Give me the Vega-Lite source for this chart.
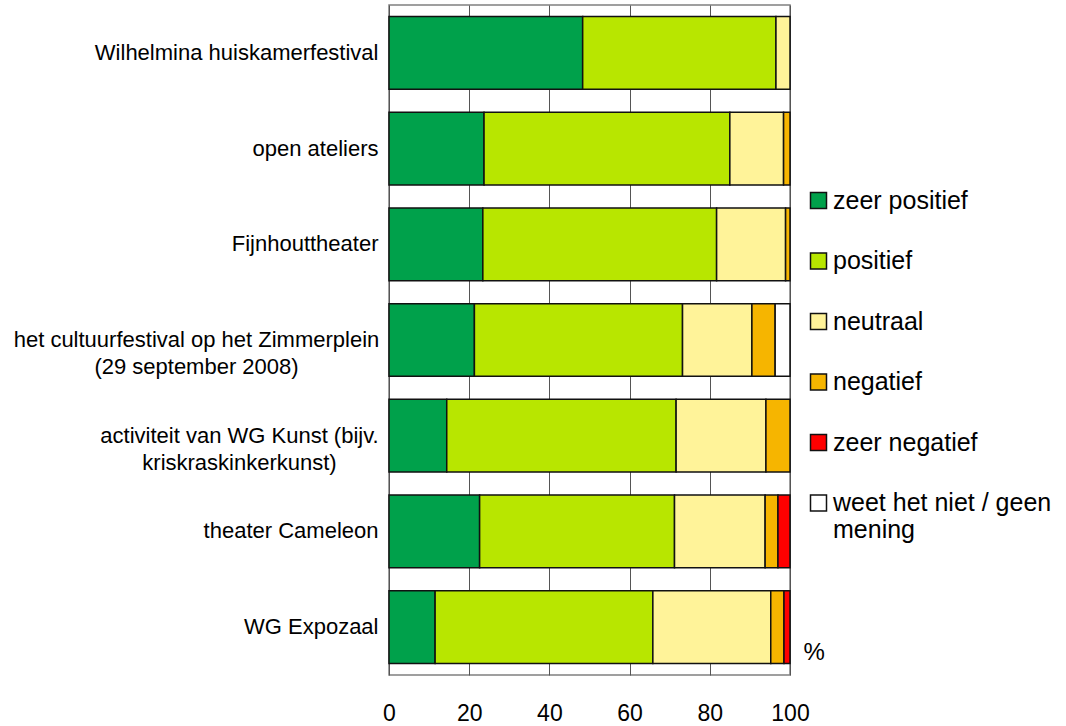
{
  "$schema": "https://vega.github.io/schema/vega-lite/v6.json",
  "width": 401,
  "height": 670,
  "autosize": {"type": "none"},
  "padding": {"left": 389, "top": 5, "right": 276, "bottom": 51},
  "background": "white",
  "config": {
    "font": "Liberation Sans",
    "view": {"stroke": "#808080", "strokeWidth": 1.5}
  },
  "data": {
    "values": [
      {"item": "Wilhelmina huiskamerfestival", "answer": "zeer positief", "k": 1, "pct": 48.3},
      {"item": "Wilhelmina huiskamerfestival", "answer": "positief", "k": 2, "pct": 48.2},
      {"item": "Wilhelmina huiskamerfestival", "answer": "neutraal", "k": 3, "pct": 3.5},
      {"item": "open ateliers", "answer": "zeer positief", "k": 1, "pct": 23.7},
      {"item": "open ateliers", "answer": "positief", "k": 2, "pct": 61.3},
      {"item": "open ateliers", "answer": "neutraal", "k": 3, "pct": 13.4},
      {"item": "open ateliers", "answer": "negatief", "k": 4, "pct": 1.6},
      {"item": "Fijnhouttheater", "answer": "zeer positief", "k": 1, "pct": 23.4},
      {"item": "Fijnhouttheater", "answer": "positief", "k": 2, "pct": 58.3},
      {"item": "Fijnhouttheater", "answer": "neutraal", "k": 3, "pct": 17.2},
      {"item": "Fijnhouttheater", "answer": "negatief", "k": 4, "pct": 1.1},
      {"item": "het cultuurfestival op het Zimmerplein (29 september 2008)", "answer": "zeer positief", "k": 1, "pct": 21.3},
      {"item": "het cultuurfestival op het Zimmerplein (29 september 2008)", "answer": "positief", "k": 2, "pct": 51.9},
      {"item": "het cultuurfestival op het Zimmerplein (29 september 2008)", "answer": "neutraal", "k": 3, "pct": 17.3},
      {"item": "het cultuurfestival op het Zimmerplein (29 september 2008)", "answer": "negatief", "k": 4, "pct": 5.8},
      {"item": "het cultuurfestival op het Zimmerplein (29 september 2008)", "answer": "weet het niet / geen mening", "k": 6, "pct": 3.7},
      {"item": "activiteit van WG Kunst (bijv. kriskraskinkerkunst)", "answer": "zeer positief", "k": 1, "pct": 14.4},
      {"item": "activiteit van WG Kunst (bijv. kriskraskinkerkunst)", "answer": "positief", "k": 2, "pct": 57.2},
      {"item": "activiteit van WG Kunst (bijv. kriskraskinkerkunst)", "answer": "neutraal", "k": 3, "pct": 22.4},
      {"item": "activiteit van WG Kunst (bijv. kriskraskinkerkunst)", "answer": "negatief", "k": 4, "pct": 6.0},
      {"item": "theater Cameleon", "answer": "zeer positief", "k": 1, "pct": 22.6},
      {"item": "theater Cameleon", "answer": "positief", "k": 2, "pct": 48.6},
      {"item": "theater Cameleon", "answer": "neutraal", "k": 3, "pct": 22.6},
      {"item": "theater Cameleon", "answer": "negatief", "k": 4, "pct": 3.2},
      {"item": "theater Cameleon", "answer": "zeer negatief", "k": 5, "pct": 3.0},
      {"item": "WG Expozaal", "answer": "zeer positief", "k": 1, "pct": 11.5},
      {"item": "WG Expozaal", "answer": "positief", "k": 2, "pct": 54.3},
      {"item": "WG Expozaal", "answer": "neutraal", "k": 3, "pct": 29.4},
      {"item": "WG Expozaal", "answer": "negatief", "k": 4, "pct": 3.3},
      {"item": "WG Expozaal", "answer": "zeer negatief", "k": 5, "pct": 1.5}
    ]
  },
  "mark": {"type": "bar", "stroke": "#111111", "strokeWidth": 1.5},
  "encoding": {
    "y": {
      "field": "item",
      "type": "nominal",
      "sort": [
        "Wilhelmina huiskamerfestival",
        "open ateliers",
        "Fijnhouttheater",
        "het cultuurfestival op het Zimmerplein (29 september 2008)",
        "activiteit van WG Kunst (bijv. kriskraskinkerkunst)",
        "theater Cameleon",
        "WG Expozaal"
      ],
      "scale": {"paddingInner": 0.24, "paddingOuter": 0.12},
      "axis": {
        "title": null,
        "domain": false,
        "ticks": false,
        "tickSize": 0,
        "grid": false,
        "labelFontSize": 22,
        "labelColor": "black",
        "labelLimit": 0,
        "labelLineHeight": 27,
        "labelBaseline": "middle",
        "labelExpr": "datum.value == 'het cultuurfestival op het Zimmerplein (29 september 2008)' ? ['het cultuurfestival op het Zimmerplein', '(29 september 2008)'] : datum.value == 'activiteit van WG Kunst (bijv. kriskraskinkerkunst)' ? ['activiteit van WG Kunst (bijv.', 'kriskraskinkerkunst)'] : datum.label",
        "labelAlign": {
          "condition": {
            "test": "datum.value == 'het cultuurfestival op het Zimmerplein (29 september 2008)' || datum.value == 'activiteit van WG Kunst (bijv. kriskraskinkerkunst)'",
            "value": "center"
          },
          "value": "right"
        },
        "labelPadding": {
          "condition": [
            {"test": "datum.value == 'het cultuurfestival op het Zimmerplein (29 september 2008)'", "value": 193},
            {"test": "datum.value == 'activiteit van WG Kunst (bijv. kriskraskinkerkunst)'", "value": 150}
          ],
          "value": 11
        }
      }
    },
    "x": {
      "field": "pct",
      "type": "quantitative",
      "stack": "zero",
      "scale": {"domain": [0, 100], "nice": false},
      "axis": {
        "values": [0, 20, 40, 60, 80, 100],
        "grid": true,
        "gridColor": "#555555",
        "gridWidth": 1,
        "ticks": false,
        "domain": false,
        "labelFontSize": 23,
        "labelColor": "black",
        "labelPadding": 27,
        "labelBaseline": "top",
        "labelFlush": false,
        "title": "%",
        "titleFontSize": 24,
        "titleFontWeight": "normal",
        "titleColor": "black",
        "titleX": 414,
        "titleY": -16,
        "titleAlign": "left",
        "titleBaseline": "alphabetic"
      }
    },
    "order": {"field": "k", "type": "quantitative", "sort": "ascending"},
    "color": {
      "field": "answer",
      "type": "nominal",
      "sort": ["zeer positief", "positief", "neutraal", "negatief", "zeer negatief", "weet het niet / geen mening"],
      "scale": {
        "domain": ["zeer positief", "positief", "neutraal", "negatief", "zeer negatief", "weet het niet / geen mening"],
        "range": ["#00A14B", "#B8E600", "#FFF399", "#F6B500", "#FF0000", "#FFFFFF"]
      },
      "legend": {
        "orient": "none",
        "legendX": 417,
        "legendY": 183,
        "title": null,
        "padding": 0,
        "symbolType": "square",
        "symbolSize": 256,
        "symbolStrokeColor": "#111111",
        "symbolStrokeWidth": 1.5,
        "symbolOpacity": 1,
        "labelFontSize": 25,
        "labelColor": "black",
        "labelOffset": 2,
        "labelLimit": 0,
        "rowPadding": 34.5,
        "labelExpr": "datum.label == 'weet het niet / geen mening' ? ['weet het niet / geen', 'mening'] : datum.label"
      }
    }
  }
}
